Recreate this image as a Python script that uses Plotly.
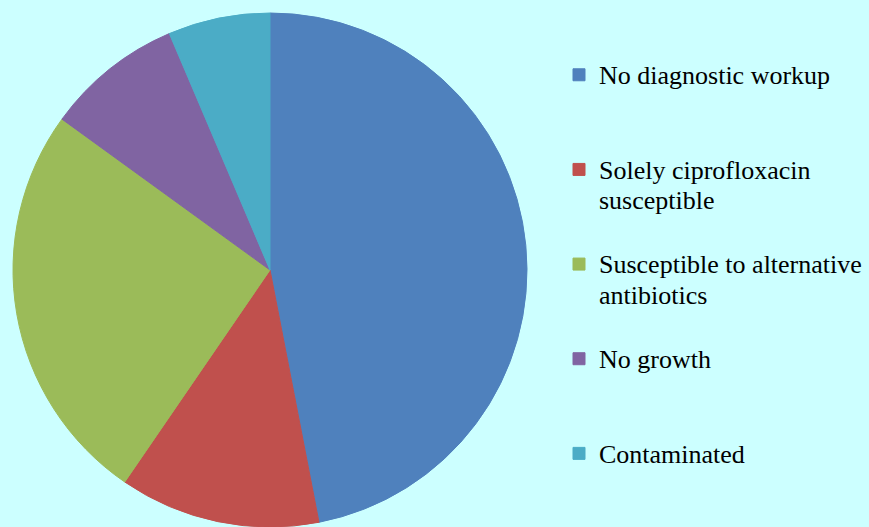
import plotly.graph_objects as go

categories = [
    "No diagnostic workup",
    "Solely ciprofloxacin<br>susceptible",
    "Susceptible to alternative<br>antibiotics",
    "No growth",
    "Contaminated",
]
values = [46.9, 12.6, 25.4, 8.6, 6.4]
colors = ["#4F81BD", "#C0504D", "#9BBB59", "#8064A2", "#4BACC6"]

W, H = 869, 527
SERIF = "Liberation Serif, Times New Roman, serif"

def legend_label(t, last=False):
    lines = t.split("<br>")
    pad = 0 if last else 3 - len(lines)
    body = "<br>".join('<span style="font-size:26px">%s</span>' % l for l in lines)
    return body + "<br>\u00a0" * pad

labels = [legend_label(c, i == len(categories) - 1) for i, c in enumerate(categories)]

fig = go.Figure(go.Pie(
    labels=labels,
    values=values,
    sort=False,
    direction="clockwise",
    rotation=0,
    marker=dict(colors=colors, line=dict(width=1, color=colors)),
    textinfo="none",
    hoverinfo="label+percent",
    domain=dict(x=[13 / W, 527 / W], y=[0, 1 - 13 / H]),
))

fig.update_layout(
    width=W, height=H,
    margin=dict(l=0, r=0, t=0, b=0),
    paper_bgcolor="#CCFFFF",
    plot_bgcolor="#CCFFFF",
    font=dict(family=SERIF, color="#000000"),
    legend=dict(
        x=559 / W, xanchor="left",
        y=1 - 53 / H, yanchor="top",
        font=dict(size=23.5, family=SERIF, color="#000000"),
        bgcolor="rgba(0,0,0,0)",
        valign="top",
        itemclick=False,
    ),
)

fig.write_html("out.html")
